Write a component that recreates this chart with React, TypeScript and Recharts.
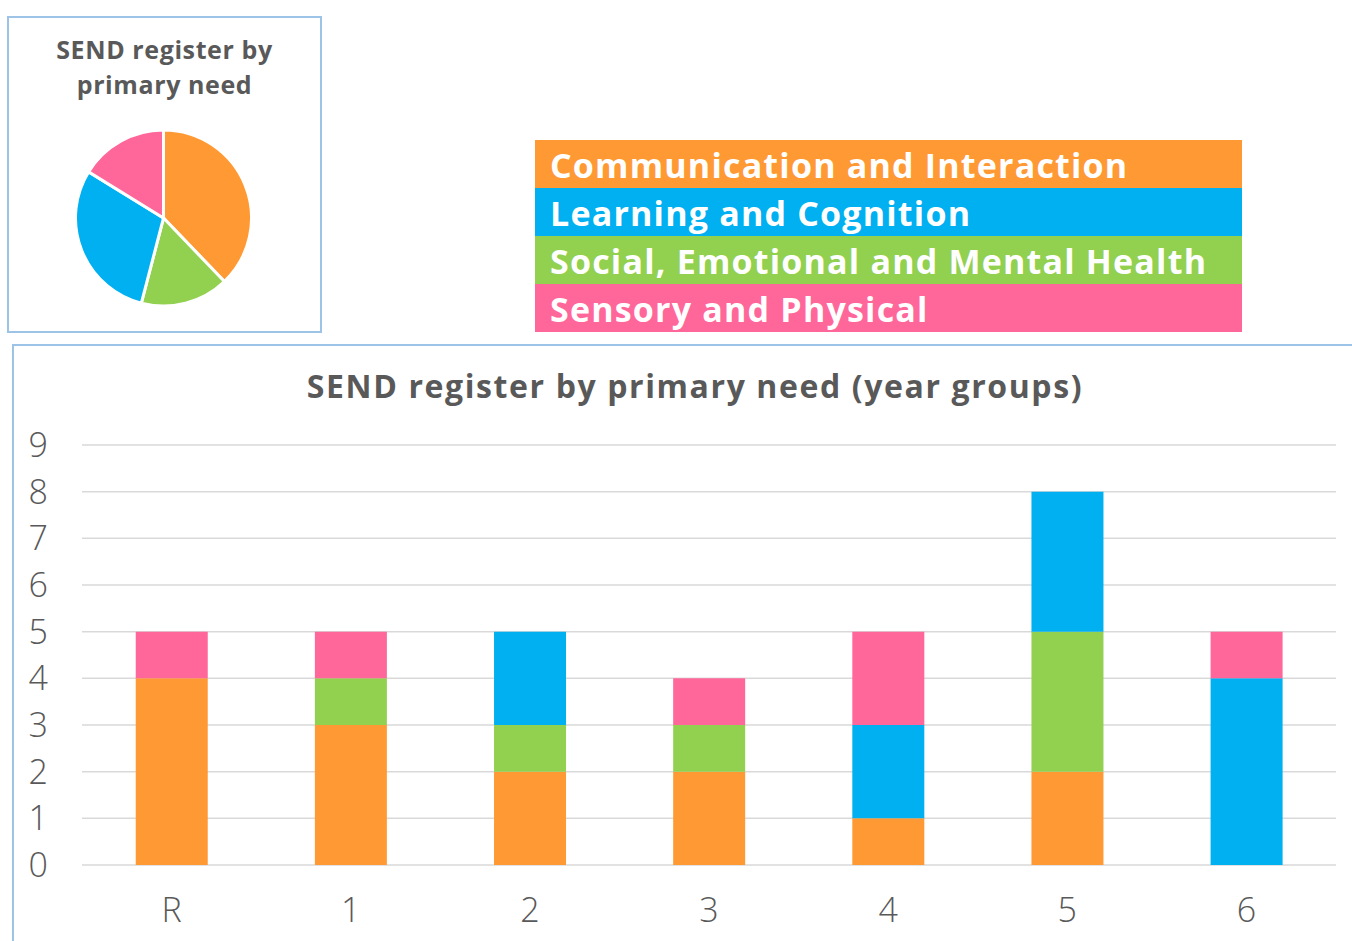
import { BarChart, Bar, XAxis, YAxis, CartesianGrid, PieChart, Pie, Cell } from 'recharts'

const yearGroups = ['R', '1', '2', '3', '4', '5', '6']
const commInteraction = [4, 3, 2, 2, 1, 2, 0]
const semh = [0, 1, 1, 1, 0, 3, 0]
const learnCognition = [0, 0, 2, 0, 2, 3, 4]
const sensoryPhysical = [1, 1, 0, 1, 2, 0, 1]
const yTicks = [0, 1, 2, 3, 4, 5, 6, 7, 8, 9]

// legend order (as shown in the key block)
const needs = [
  { key: 'ci', name: 'Communication and Interaction', color: '#FF9933', values: commInteraction },
  { key: 'lc', name: 'Learning and Cognition', color: '#00B0F0', values: learnCognition },
  { key: 'semh', name: 'Social, Emotional and Mental Health', color: '#92D050', values: semh },
  { key: 'sp', name: 'Sensory and Physical', color: '#FF6699', values: sensoryPhysical },
]

// stacking order, bottom to top (also the pie order, clockwise from 12 o'clock)
const stackOrder = ['ci', 'semh', 'lc', 'sp']

const FONT = '"Open Sans", "DejaVu Sans", sans-serif'
const BORDER = '#9DC3E6'

const barData = yearGroups.map((g, i) => {
  const row: any = { group: g }
  needs.forEach((n) => (row[n.key] = n.values[i]))
  return row
})

const pieData = stackOrder.map((k) => {
  const n = needs.find((x) => x.key === k)!
  return { name: n.name, color: n.color, value: n.values.reduce((a, b) => a + b, 0) }
})

export default function App() {
  return (
    <div style={{ position: 'absolute', left: 0, top: 0, width: 1352, height: 941, background: '#fff', overflow: 'hidden', fontFamily: FONT }}>
      {/* pie panel */}
      <div style={{ position: 'absolute', left: 7, top: 16, width: 315, height: 317, border: `2px solid ${BORDER}`, boxSizing: 'border-box' }} />
      <div style={{ position: 'absolute', left: 7, top: 32, width: 315, textAlign: 'center', color: '#595959', fontWeight: 700, fontSize: 25, lineHeight: '35px', letterSpacing: 0.6 }}>
        SEND register by
        <br />
        primary need
      </div>
      <div style={{ position: 'absolute', left: 0, top: 100 }}>
        <PieChart width={330} height={236} margin={{ top: 0, right: 0, bottom: 0, left: 0 }}>
          <Pie
            data={pieData}
            dataKey="value"
            cx={163.5}
            cy={118}
            outerRadius={88}
            startAngle={90}
            endAngle={-270}
            stroke="#fff"
            strokeWidth={3}
            isAnimationActive={false}
          >
            {pieData.map((d) => (
              <Cell key={d.name} fill={d.color} />
            ))}
          </Pie>
        </PieChart>
      </div>

      {/* key */}
      <div style={{ position: 'absolute', left: 535, top: 140, width: 707 }}>
        {needs.map((n) => (
          <div key={n.key} style={{ height: 48, background: n.color, color: '#fff', fontWeight: 700, fontSize: 34, lineHeight: '50px', paddingLeft: 15, whiteSpace: 'nowrap', letterSpacing: 1.2 }}>
            {n.name}
          </div>
        ))}
      </div>

      {/* bar panel */}
      <div style={{ position: 'absolute', left: 12, top: 344, width: 1360, height: 620, borderTop: `2px solid ${BORDER}`, borderLeft: `2px solid ${BORDER}`, boxSizing: 'border-box' }} />
      <div style={{ position: 'absolute', left: 12, top: 364, width: 1366, textAlign: 'center', color: '#595959', fontWeight: 700, fontSize: 32, letterSpacing: 1.6 }}>
        SEND register by primary need (year groups)
      </div>
      <div style={{ position: 'absolute', left: 12, top: 344 }}>
        <BarChart width={1340} height={597} data={barData} margin={{ top: 101, right: 16, bottom: 0, left: 0 }} barCategoryGap="30%">
          <CartesianGrid vertical={false} stroke="#D9D9D9" strokeWidth={1.5} />
          <XAxis
            dataKey="group"
            height={76}
            axisLine={false}
            tickLine={false}
            tickSize={0}
            tickMargin={33}
            tick={{ fill: '#595959', fontSize: 34, fontFamily: FONT, fontWeight: 300 }}
          />
          <YAxis
            domain={[0, 9]}
            ticks={yTicks}
            width={70}
            axisLine={false}
            tickLine={false}
            tickSize={0}
            tickMargin={34}
            interval={0}
            tick={{ fill: '#595959', fontSize: 34, fontFamily: FONT, fontWeight: 300 }}
          />
          {stackOrder.map((k) => {
            const n = needs.find((x) => x.key === k)!
            return <Bar key={k} dataKey={k} name={n.name} stackId="a" fill={n.color} isAnimationActive={false} />
          })}
        </BarChart>
      </div>
    </div>
  )
}
